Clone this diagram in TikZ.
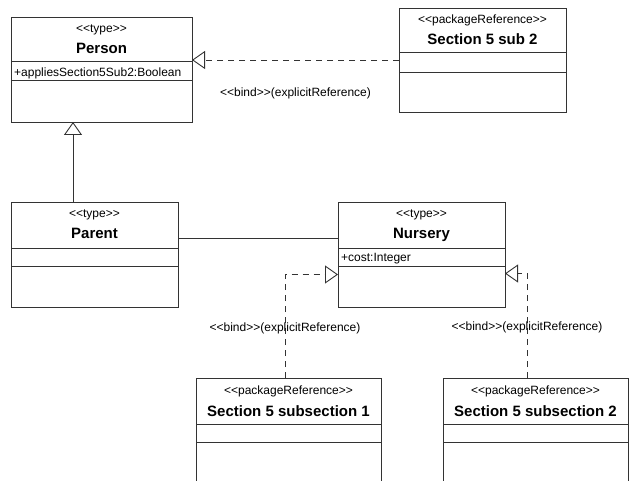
\documentclass[tikz,border=0pt]{standalone}
\usepackage{fontspec}
\newfontfamily\umlfont{Liberation Sans}
\usetikzlibrary{arrows.meta}

\tikzset{
  classbox/.style = {draw = black!80, line width = 0.9pt, rectangle, inner sep = 0pt,
    outer sep = 0pt, anchor = north west, minimum height = 105pt},
  stereo/.style = {anchor = base, inner sep = 0pt, font = \umlfont\fontsize{12}{14}\selectfont},
  classname/.style = {anchor = base, inner sep = 0pt, font = \umlfont\bfseries\fontsize{15}{17}\selectfont},
  attr/.style = {anchor = base west, inner sep = 0pt, font = \umlfont\fontsize{12}{14}\selectfont},
  sepline/.style = {draw = black!80, line width = 0.9pt},
  bindlabel/.style = {inner sep = 0pt, font = \umlfont\fontsize{12}{14}\selectfont},
  bindarrow/.style = {draw = black!80, line width = 0.9pt, dash pattern = on 6pt off 5pt,
    -{Triangle[open, length = 13pt, width = 18pt]}},
  inherit/.style = {draw = black!80, line width = 0.9pt, -{Triangle[open, length = 13pt, width = 18pt]}},
  assoc/.style = {draw = black!80, line width = 0.9pt}
}

\begin{document}
\begin{tikzpicture}[x = 1pt, y = -1pt]
  \useasboundingbox (0, 0) rectangle (629, 481);
  \clip (0, 0) rectangle (629, 481);

  \node[classbox, minimum width = 181pt] (person) at (11, 17) {};
  \node[stereo] (personSt) at ([yshift = -16pt]person.north) {<<type>>};
  \node[classname] (personName) at ([yshift = -37pt]person.north) {Person};
  \draw[sepline] ([yshift = -44pt]person.north west) -- ([yshift = -44pt]person.north east);
  \node[attr] (personAttr) at ([shift = {(3pt, -60pt)}]person.north west) {+appliesSection5Sub2:Boolean};
  \draw[sepline] ([yshift = -63pt]person.north west) -- ([yshift = -63pt]person.north east);

  \node[classbox, minimum width = 167pt, minimum height = 104pt] (sub) at (399, 8) {};
  \node[stereo] (subSt) at ([yshift = -16pt]sub.north) {<<packageReference>>};
  \node[classname] (subName) at ([yshift = -37pt]sub.north) {Section 5 sub 2};
  \draw[sepline] ([yshift = -44pt]sub.north west) -- ([yshift = -44pt]sub.north east);
  \draw[sepline] ([yshift = -64pt]sub.north west) -- ([yshift = -64pt]sub.north east);

  \node[classbox, minimum width = 167pt] (parent) at (11, 202) {};
  \node[stereo] (parentSt) at ([yshift = -16pt]parent.north) {<<type>>};
  \node[classname] (parentName) at ([yshift = -37pt]parent.north) {Parent};
  \draw[sepline] ([yshift = -46pt]parent.north west) -- ([yshift = -46pt]parent.north east);
  \draw[sepline] ([yshift = -64pt]parent.north west) -- ([yshift = -64pt]parent.north east);

  \node[classbox, minimum width = 167pt] (nursery) at (338, 202) {};
  \node[stereo] (nurserySt) at ([yshift = -16pt]nursery.north) {<<type>>};
  \node[classname] (nurseryName) at ([yshift = -37pt]nursery.north) {Nursery};
  \draw[sepline] ([yshift = -46pt]nursery.north west) -- ([yshift = -46pt]nursery.north east);
  \node[attr] (nurseryAttr) at ([shift = {(3pt, -59pt)}]nursery.north west) {+cost:Integer};
  \draw[sepline] ([yshift = -64pt]nursery.north west) -- ([yshift = -64pt]nursery.north east);

  \node[classbox, minimum width = 185pt] (subsecA) at (196, 378) {};
  \node[stereo] (subsecASt) at ([yshift = -16pt]subsecA.north) {<<packageReference>>};
  \node[classname] (subsecAName) at ([yshift = -38pt]subsecA.north) {Section 5 subsection 1};
  \draw[sepline] ([yshift = -46pt]subsecA.north west) -- ([yshift = -46pt]subsecA.north east);
  \draw[sepline] ([yshift = -64pt]subsecA.north west) -- ([yshift = -64pt]subsecA.north east);

  \node[classbox, minimum width = 185pt] (subsecB) at (443, 378) {};
  \node[stereo] (subsecBSt) at ([yshift = -16pt]subsecB.north) {<<packageReference>>};
  \node[classname] (subsecBName) at ([yshift = -38pt]subsecB.north) {Section 5 subsection 2};
  \draw[sepline] ([yshift = -46pt]subsecB.north west) -- ([yshift = -46pt]subsecB.north east);
  \draw[sepline] ([yshift = -64pt]subsecB.north west) -- ([yshift = -64pt]subsecB.north east);

  \draw[bindarrow] (sub.west) -- (sub.west -| person.east)
    node[bindlabel, midway, yshift = -33pt] {<<bind>>(explicitReference)};
  \draw[inherit] ([xshift = -21.5pt]parent.north) -- ([xshift = -21.5pt]parent.north |- person.south);
  \draw[assoc] ([yshift = 16.5pt]parent.east) -- ([yshift = 16.5pt]parent.east -| nursery.west);
  \draw[bindarrow] ([xshift = -3.5pt]subsecA.north) |- ([yshift = -20pt]nursery.west)
    node[bindlabel, pos = 0.25, yshift = -2pt] {<<bind>>(explicitReference)};
  \draw[bindarrow] ([xshift = -8.5pt]subsecB.north) |- ([yshift = -19pt]nursery.east)
    node[bindlabel, pos = 0.25, yshift = -2pt] {<<bind>>(explicitReference)};
\end{tikzpicture}
\end{document}
